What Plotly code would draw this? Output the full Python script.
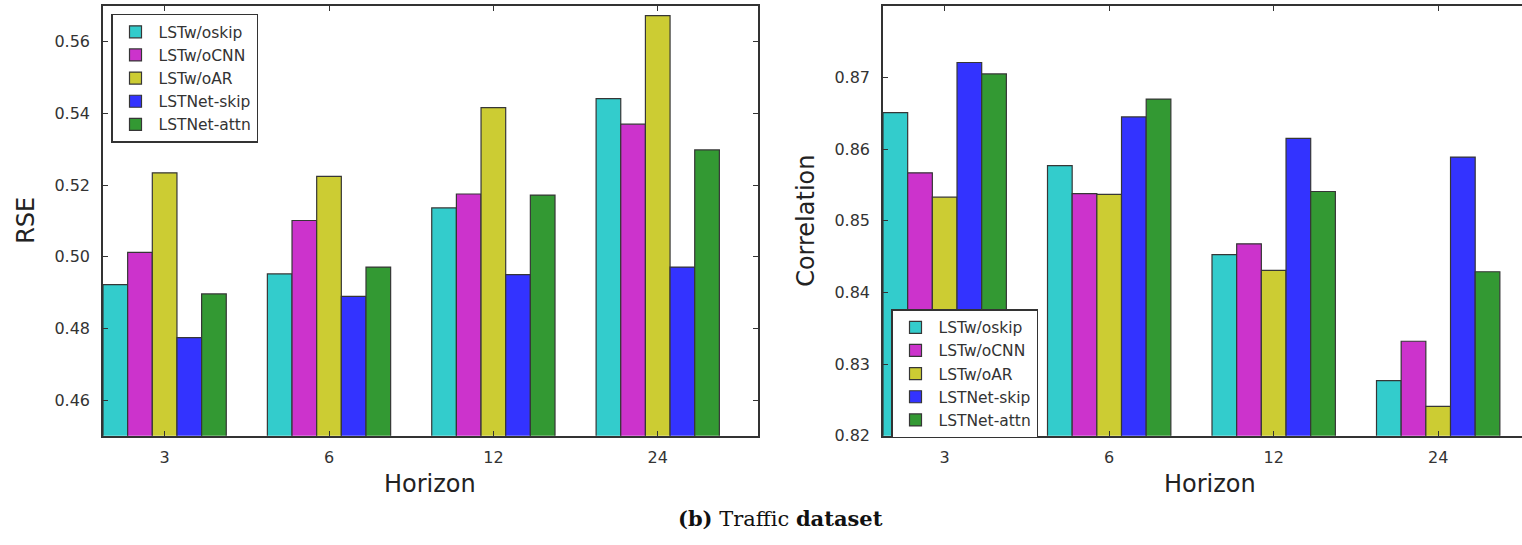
import plotly.graph_objects as go

horizons = ["3", "6", "12", "24"]
models = ["LSTw/oskip", "LSTw/oCNN", "LSTw/oAR", "LSTNet-skip", "LSTNet-attn"]
colors = ["#33cccc", "#cc33cc", "#cccc33", "#3333ff", "#339933"]

rse_woskip = [0.4922, 0.4952, 0.5136, 0.5441]
rse_wocnn = [0.5012, 0.5101, 0.5175, 0.5370]
rse_woar = [0.5234, 0.5224, 0.5416, 0.5673]
rse_skip = [0.4774, 0.4889, 0.4950, 0.4971]
rse_attn = [0.4896, 0.4971, 0.5172, 0.5298]

corr_woskip = [0.8651, 0.8577, 0.8453, 0.8277]
corr_wocnn = [0.8567, 0.8538, 0.8468, 0.8332]
corr_woar = [0.8533, 0.8537, 0.8431, 0.8241]
corr_skip = [0.8721, 0.8645, 0.8615, 0.8589]
corr_attn = [0.8705, 0.8670, 0.8541, 0.8429]

rse_series = [rse_woskip, rse_wocnn, rse_woar, rse_skip, rse_attn]
corr_series = [corr_woskip, corr_wocnn, corr_woar, corr_skip, corr_attn]

W, H = 1522, 545
xpos = list(range(len(horizons)))

fig = go.Figure()
for name, col, vals in zip(models, colors, rse_series):
    fig.add_trace(go.Bar(x=xpos, y=vals, name=name, marker=dict(color=col, line=dict(color="#363636", width=1.2)),
                         xaxis="x", yaxis="y", legend="legend", offsetgroup=name))
for name, col, vals in zip(models, colors, corr_series):
    fig.add_trace(go.Bar(x=xpos, y=vals, name=name, marker=dict(color=col, line=dict(color="#363636", width=1.2)),
                         xaxis="x2", yaxis="y2", legend="legend2", offsetgroup=name))

tickfont = dict(family="DejaVu Sans", size=16, color="#333333")
axcommon = dict(showgrid=False, zeroline=False, showline=True, linecolor="#333333", linewidth=1.5,
                ticks="inside", ticklen=5, tickwidth=1.2, tickcolor="#333333", tickfont=tickfont)

ytop = 1 - 6 / H
ybot = 1 - 444 / H

legfont = dict(family="DejaVu Sans", size=15.5, color="#333333")

fig.update_layout(
    width=W, height=H,
    margin=dict(l=0, r=0, t=0, b=0),
    paper_bgcolor="white", plot_bgcolor="white",
    barmode="group", bargap=0.25, bargroupgap=0,
    xaxis=dict(domain=[103 / W, 758 / W], range=[-0.375, 3.61], tickvals=xpos, ticktext=horizons,
               anchor="y", mirror="ticks", ticklabelstandoff=6, **axcommon),
    yaxis=dict(domain=[ybot, ytop], range=[0.45, 0.57], tickvals=[0.46, 0.48, 0.50, 0.52, 0.54, 0.56],
               ticktext=["0.46", "0.48", "0.50", "0.52", "0.54", "0.56"], anchor="x", mirror="ticks",
               ticklabelstandoff=8, **axcommon),
    xaxis2=dict(domain=[883 / W, 1.0], range=[-0.375, -0.375 + (W - 883) / 164.5], tickvals=xpos,
                ticktext=horizons, anchor="y2", mirror="ticks", ticklabelstandoff=6, **axcommon),
    yaxis2=dict(domain=[ybot, ytop], range=[0.82, 0.88], tickvals=[0.82, 0.83, 0.84, 0.85, 0.86, 0.87],
                ticktext=["0.82", "0.83", "0.84", "0.85", "0.86", "0.87"], anchor="x2", mirror=False,
                ticklabelstandoff=8, **axcommon),
    legend=dict(x=111 / W, y=1 - 14 / H, xanchor="left", yanchor="top", bgcolor="white",
                bordercolor="#333333", borderwidth=1.5, font=legfont, tracegroupgap=0, itemwidth=36),
    legend2=dict(x=891 / W, y=1 - 315 / H, xanchor="left", yanchor="top", bgcolor="white",
                 bordercolor="#333333", borderwidth=1.5, font=legfont, tracegroupgap=0, itemwidth=36),
    showlegend=True,
)

titlefont = dict(family="DejaVu Sans", size=24, color="#222222")
fig.add_annotation(text="RSE", x=26 / W, y=1 - 225 / H, xref="paper", yref="paper", textangle=-90,
                   showarrow=False, font=titlefont, xanchor="center", yanchor="middle")
fig.add_annotation(text="Correlation", x=806 / W, y=1 - 225 / H, xref="paper", yref="paper", textangle=-90,
                   showarrow=False, font=titlefont, xanchor="center", yanchor="middle")
fig.add_annotation(text="Horizon", x=430 / W, y=1 - 493 / H, xref="paper", yref="paper",
                   showarrow=False, font=titlefont, xanchor="center", yanchor="middle")
fig.add_annotation(text="Horizon", x=1210 / W, y=1 - 493 / H, xref="paper", yref="paper",
                   showarrow=False, font=titlefont, xanchor="center", yanchor="middle")
fig.add_annotation(text="<b>(b)</b> Traffic <b>dataset</b>", x=780 / W, y=1 - 528 / H, xref="paper", yref="paper",
                   showarrow=False, font=dict(family="DejaVu Serif", size=21, color="#111111"),
                   xanchor="center", yanchor="middle")

post = """
document.documentElement.style.margin='0px';
document.body.style.margin='0px';
document.documentElement.style.overflow='hidden';
document.body.style.overflow='hidden';
"""
fig.write_html("out.html", post_script=post, config={"displayModeBar": False})
